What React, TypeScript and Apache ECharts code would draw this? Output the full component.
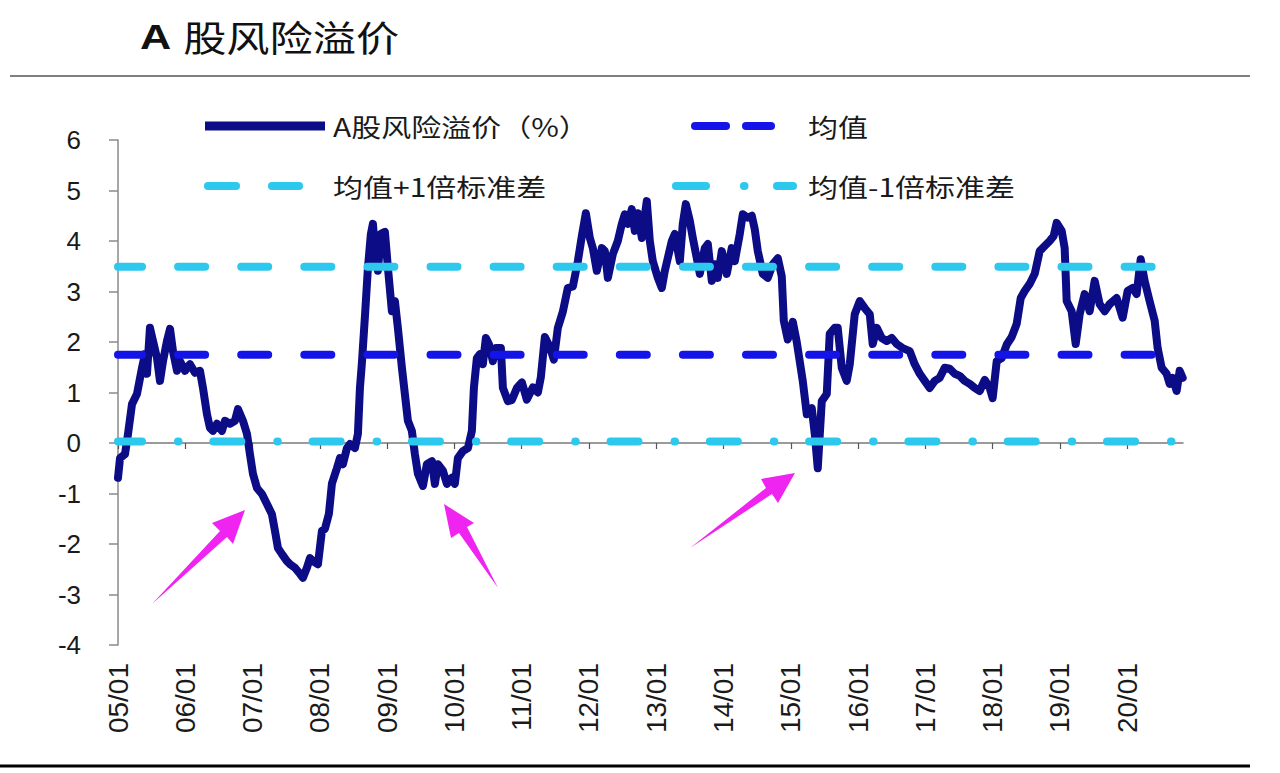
import React, { useEffect, useRef } from 'react';
import * as echarts from 'echarts';

const TITLE_A = 'A';
const TITLE_REST = '股风险溢价';
const SERIES_NAME = 'A股风险溢价（%）';
const MEAN_NAME = '均值';
const UPPER_NAME = '均值+1倍标准差';
const LOWER_NAME = '均值-1倍标准差';

const xTickYears = [2005, 2006, 2007, 2008, 2009, 2010, 2011, 2012, 2013, 2014, 2015, 2016, 2017, 2018, 2019, 2020];
const xTickLabels = ['05/01', '06/01', '07/01', '08/01', '09/01', '10/01', '11/01', '12/01', '13/01', '14/01', '15/01', '16/01', '17/01', '18/01', '19/01', '20/01'];
const xMin = 2005;
const xMax = 2020.83;
const yMin = -4;
const yMax = 6;

// time (fractional year) of each reading
const dates = [
  2005.000, 2005.030, 2005.104, 2005.149, 2005.208, 2005.282, 2005.357, 2005.401, 2005.431, 2005.475,
  2005.520, 2005.580, 2005.624, 2005.669, 2005.728, 2005.773, 2005.817, 2005.877, 2005.921, 2005.996,
  2006.070, 2006.144, 2006.218, 2006.263, 2006.322, 2006.367, 2006.412, 2006.471, 2006.545, 2006.590,
  2006.664, 2006.738, 2006.783, 2006.857, 2006.917, 2006.961, 2007.006, 2007.065, 2007.140, 2007.214,
  2007.288, 2007.333, 2007.377, 2007.437, 2007.511, 2007.556, 2007.630, 2007.704, 2007.749, 2007.808,
  2007.853, 2007.897, 2007.972, 2008.031, 2008.076, 2008.135, 2008.180, 2008.254, 2008.299, 2008.343,
  2008.403, 2008.447, 2008.522, 2008.566, 2008.596, 2008.626, 2008.670, 2008.715, 2008.759, 2008.789,
  2008.834, 2008.863, 2008.908, 2008.967, 2009.012, 2009.071, 2009.116, 2009.160, 2009.220, 2009.264,
  2009.309, 2009.368, 2009.413, 2009.458, 2009.532, 2009.591, 2009.666, 2009.710, 2009.755, 2009.829,
  2009.889, 2009.963, 2010.007, 2010.052, 2010.126, 2010.201, 2010.260, 2010.290, 2010.334, 2010.379,
  2010.423, 2010.468, 2010.513, 2010.572, 2010.617, 2010.691, 2010.721, 2010.795, 2010.854, 2010.929,
  2011.003, 2011.077, 2011.166, 2011.241, 2011.285, 2011.345, 2011.419, 2011.478, 2011.538, 2011.612,
  2011.686, 2011.761, 2011.835, 2011.895, 2011.954, 2012.013, 2012.058, 2012.117, 2012.192, 2012.236,
  2012.281, 2012.355, 2012.429, 2012.489, 2012.533, 2012.578, 2012.637, 2012.682, 2012.727, 2012.786,
  2012.860, 2012.905, 2012.949, 2013.024, 2013.083, 2013.128, 2013.172, 2013.232, 2013.276, 2013.351,
  2013.395, 2013.440, 2013.499, 2013.544, 2013.603, 2013.648, 2013.722, 2013.767, 2013.826, 2013.871,
  2013.915, 2013.975, 2014.049, 2014.123, 2014.168, 2014.242, 2014.287, 2014.361, 2014.421, 2014.465,
  2014.510, 2014.584, 2014.658, 2014.733, 2014.807, 2014.866, 2014.896, 2014.955, 2015.030, 2015.089,
  2015.178, 2015.238, 2015.312, 2015.357, 2015.401, 2015.461, 2015.535, 2015.579, 2015.654, 2015.698,
  2015.758, 2015.832, 2015.877, 2015.951, 2016.025, 2016.100, 2016.174, 2016.218, 2016.278, 2016.352,
  2016.426, 2016.501, 2016.575, 2016.664, 2016.768, 2016.842, 2016.917, 2016.991, 2017.065, 2017.140,
  2017.214, 2017.288, 2017.363, 2017.437, 2017.511, 2017.585, 2017.660, 2017.734, 2017.808, 2017.883,
  2017.957, 2018.001, 2018.061, 2018.135, 2018.210, 2018.284, 2018.358, 2018.418, 2018.477, 2018.551,
  2018.626, 2018.700, 2018.774, 2018.848, 2018.908, 2018.952, 2019.027, 2019.071, 2019.101, 2019.175,
  2019.235, 2019.294, 2019.368, 2019.443, 2019.517, 2019.591, 2019.666, 2019.740, 2019.844, 2019.933,
  2020.007, 2020.082, 2020.141, 2020.201, 2020.260, 2020.334, 2020.409, 2020.453, 2020.513, 2020.587,
  2020.632, 2020.676, 2020.736, 2020.780, 2020.825,
];

// A股风险溢价（%）
const premium = [
  -0.69, -0.30, -0.22, 0.18, 0.77, 0.97, 1.49, 1.76, 1.37, 2.28,
  2.02, 1.68, 1.23, 1.62, 2.02, 2.26, 1.82, 1.43, 1.62, 1.43,
  1.56, 1.39, 1.43, 1.09, 0.57, 0.30, 0.24, 0.38, 0.24, 0.44,
  0.38, 0.44, 0.67, 0.44, 0.18, -0.22, -0.61, -0.89, -1.01, -1.21,
  -1.41, -1.74, -2.08, -2.20, -2.34, -2.40, -2.47, -2.59, -2.67, -2.47,
  -2.28, -2.34, -2.40, -1.74, -1.70, -1.40, -0.80, -0.50, -0.30, -0.42,
  -0.10, -0.02, -0.10, 0.18, 1.09, 1.60, 2.50, 3.47, 4.14, 4.34,
  3.60, 3.41, 4.14, 4.18, 3.47, 2.61, 2.81, 2.28, 1.49, 0.97,
  0.44, 0.24, -0.22, -0.61, -0.85, -0.42, -0.36, -0.81, -0.42, -0.55,
  -0.81, -0.69, -0.81, -0.30, -0.16, -0.10, 0.24, 1.09, 1.68, 1.76,
  1.56, 2.08, 1.96, 1.62, 1.88, 1.88, 1.09, 0.83, 0.85, 1.09,
  1.20, 0.86, 1.10, 1.00, 1.30, 2.10, 1.90, 1.65, 2.28, 2.60,
  3.07, 3.10, 3.60, 4.10, 4.55, 4.06, 3.86, 3.41, 3.86, 3.80,
  3.27, 3.74, 4.00, 4.34, 4.53, 4.34, 4.63, 4.20, 4.55, 4.06,
  4.79, 4.00, 3.60, 3.27, 3.07, 3.41, 3.66, 4.00, 4.14, 3.60,
  4.34, 4.73, 4.40, 4.06, 3.66, 3.35, 3.86, 3.94, 3.21, 3.54,
  3.27, 3.80, 3.35, 3.86, 3.60, 4.14, 4.53, 4.46, 4.50, 4.23,
  3.80, 3.35, 3.27, 3.54, 3.66, 3.30, 2.42, 2.05, 2.40, 2.00,
  1.23, 0.57, 0.69, 0.18, -0.50, 0.83, 0.97, 2.16, 2.28, 2.28,
  1.49, 1.23, 1.56, 2.55, 2.81, 2.67, 2.55, 1.96, 2.28, 2.08,
  2.02, 2.08, 1.96, 1.88, 1.82, 1.56, 1.37, 1.23, 1.09, 1.23,
  1.29, 1.49, 1.47, 1.37, 1.33, 1.23, 1.17, 1.09, 1.03, 1.25,
  1.09, 0.89, 1.62, 1.68, 1.95, 2.10, 2.36, 2.87, 3.01, 3.15,
  3.35, 3.80, 3.90, 4.00, 4.10, 4.36, 4.20, 3.86, 2.81, 2.61,
  1.96, 2.55, 2.95, 2.61, 3.21, 2.75, 2.61, 2.75, 2.87, 2.48,
  3.01, 3.07, 2.95, 3.64, 3.21, 2.81, 2.42, 1.88, 1.49, 1.37,
  1.17, 1.29, 1.03, 1.43, 1.29,
];

const meanValue = 1.75;
const upperValue = 3.49;
const lowerValue = 0.03;
const refStart = 2005;
const refEnd = 2020.8;

const NAVY = '#0c0c86';
const BLUE = '#1414e8';
const CYAN = '#2cc8ee';
const MAGENTA = '#f024f0';
const CJK = '"Noto Sans CJK SC", "Liberation Sans", sans-serif';
const LATIN = '"Liberation Sans", Arial, sans-serif';

export default function App() {
  const ref = useRef<HTMLDivElement>(null);

  useEffect(() => {
    if (!ref.current) return;
    const chart = echarts.init(ref.current, undefined, { renderer: 'svg' });

    const mainData = dates.map((d, i) => [d, premium[i]]);
    const refLine = (v: number) => [[refStart, v], [refEnd, v]];

    const legendText = (x: number, y: number, text: string) => ({
      type: 'text',
      x,
      y,
      scaleX: 1.2,
      z: 10,
      style: { text, fontSize: 25, fontFamily: CJK, fill: '#1a1a1a', verticalAlign: 'middle', align: 'left' },
    });
    const seg = (x1: number, x2: number, y: number, color: string, w: number, cap = 'round') => ({
      type: 'line',
      z: 10,
      shape: { x1, y1: y, x2, y2: y },
      style: { stroke: color, lineWidth: w, lineCap: cap },
    });
    const arrow = (pts: number[][]) => ({
      type: 'polygon',
      z: 10,
      shape: { points: pts },
      style: { fill: MAGENTA },
    });

    const option: any = {
      animation: false,
      backgroundColor: '#ffffff',
      grid: { left: 118, right: 97, top: 140, bottom: 128, containLabel: false, outerBoundsMode: 'none' },
      xAxis: [
        {
          type: 'value',
          min: xMin,
          max: xMax,
          position: 'bottom',
          axisLine: { show: true, onZero: true, lineStyle: { color: '#7a7a7a', width: 1.5 } },
          axisTick: { show: true, customValues: xTickYears, length: 6, lineStyle: { color: '#555', width: 1.2 } },
          axisLabel: { show: false },
          splitLine: { show: false },
        },
        {
          type: 'value',
          min: xMin,
          max: xMax,
          position: 'bottom',
          axisLine: { show: false, onZero: false },
          axisTick: { show: false },
          splitLine: { show: false },
          axisLabel: {
            show: true,
            customValues: xTickYears,
            rotate: 90,
            margin: 18,
            fontSize: 28,
            fontFamily: LATIN,
            color: '#1a1a1a',
            formatter: (v: number) => {
              const i = xTickYears.indexOf(Math.round(v));
              return i >= 0 ? xTickLabels[i] : '';
            },
          },
        },
      ],
      yAxis: {
        type: 'value',
        min: yMin,
        max: yMax,
        interval: 1,
        axisLine: { show: true, lineStyle: { color: '#8a8a8a', width: 1.5 } },
        axisTick: { show: true, length: 9, lineStyle: { color: '#8a8a8a', width: 1.5 } },
        axisLabel: { margin: 37, fontSize: 26, fontFamily: LATIN, color: '#1a1a1a' },
        splitLine: { show: false },
      },
      series: [
        {
          name: SERIES_NAME,
          type: 'line',
          xAxisIndex: 0,
          data: mainData,
          showSymbol: false,
          symbol: 'none',
          lineStyle: { color: NAVY, width: 8, cap: 'round', join: 'round' },
          z: 2,
        },
        {
          name: MEAN_NAME,
          type: 'line',
          xAxisIndex: 0,
          data: refLine(meanValue),
          symbol: 'none',
          lineStyle: { color: BLUE, width: 8, type: [27, 36.1], dashOffset: 3, cap: 'round' },
          z: 3,
        },
        {
          name: UPPER_NAME,
          type: 'line',
          xAxisIndex: 0,
          data: refLine(upperValue),
          symbol: 'none',
          lineStyle: { color: CYAN, width: 8, type: [27, 36.1], dashOffset: 3, cap: 'round' },
          z: 3,
        },
        {
          name: LOWER_NAME,
          type: 'line',
          xAxisIndex: 0,
          data: refLine(lowerValue),
          symbol: 'none',
          lineStyle: { color: CYAN, width: 8, type: [28, 36, 0.5, 34.8], dashOffset: 4, cap: 'round' },
          z: 3,
        },
      ],
      graphic: [
        {
          type: 'text',
          x: 140,
          y: 36,
          scaleX: 1.2,
          style: {
            text: '{a|' + TITLE_A + ' }{c|' + TITLE_REST + '}',
            verticalAlign: 'middle',
            align: 'left',
            rich: {
              a: { fontSize: 36, fontWeight: 'bold', fontFamily: LATIN, fill: '#111' },
              c: { fontSize: 36, fontWeight: 'normal', fontFamily: CJK, fill: '#111' },
            },
          },
        },
        { type: 'line', shape: { x1: 10, y1: 76, x2: 1250, y2: 76 }, style: { stroke: '#555', lineWidth: 1.5 } },
        { type: 'line', shape: { x1: 0, y1: 766, x2: 1250, y2: 766 }, style: { stroke: '#000', lineWidth: 3 } },
        // legend
        seg(205, 325, 126, NAVY, 9, 'butt'),
        legendText(333, 126, SERIES_NAME),
        seg(695, 726, 126, BLUE, 8),
        seg(746, 771, 126, BLUE, 8),
        legendText(808, 126, MEAN_NAME),
        seg(208, 236, 186, CYAN, 8),
        seg(272, 299, 186, CYAN, 8),
        legendText(333, 186, UPPER_NAME),
        seg(676, 706, 186, CYAN, 8),
        seg(744, 744.5, 186, CYAN, 8),
        seg(777, 793, 186, CYAN, 8),
        legendText(808, 186, LOWER_NAME),
        // annotation arrows
        arrow([[245, 510], [212, 523], [220, 531], [152, 604], [227, 537], [233, 544]]),
        arrow([[444, 504], [474, 523], [467, 527], [498, 588], [459, 533], [451, 538]]),
        arrow([[795, 473], [761, 479], [766, 488], [690, 548], [772, 494], [778, 503]]),
      ],
    };

    chart.setOption(option);
    return () => chart.dispose();
  }, []);

  return (
    <div
      ref={ref}
      style={{ position: 'absolute', left: 0, top: 0, width: 1280, height: 773, background: '#fff' }}
    />
  );
}
